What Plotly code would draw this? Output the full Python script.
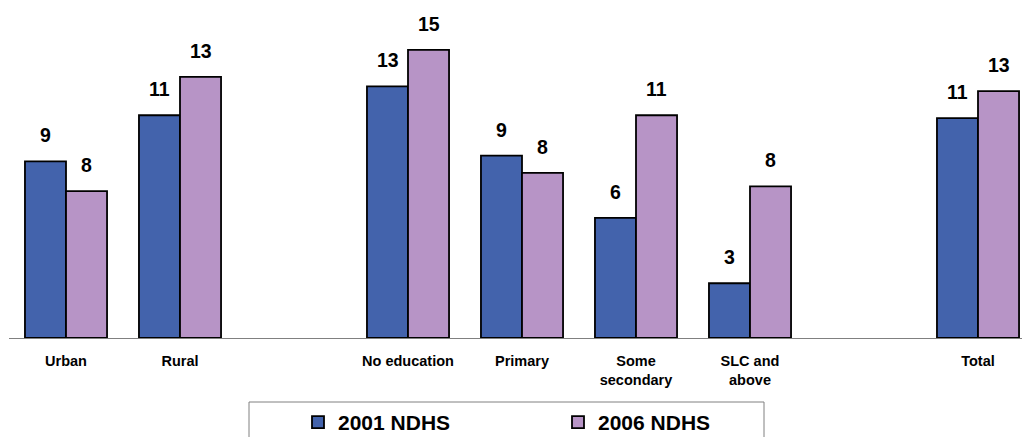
import plotly.graph_objects as go

# categories (blank slots give the gaps between groups)
categories = ["Urban", "Rural", " ", "No education", "Primary",
              "Some<br>secondary", "SLC and<br>above", "  ", "Total"]

ndhs_2001 = [9.2, 11.6, None, 13.1, 9.5, 6.25, 2.85, None, 11.45]
ndhs_2006 = [7.65, 13.6, None, 15.0, 8.6, 11.6, 7.9, None, 12.85]
labels_2001 = ["9", "11", "", "13", "9", "6", "3", "", "11"]
labels_2006 = ["8", "13", "", "15", "8", "11", "8", "", "13"]

blue = "#4363AC"
lilac = "#B794C6"

fig = go.Figure()
fig.add_trace(go.Bar(x=categories, y=ndhs_2001, name="2001 NDHS",
                     marker=dict(color=blue, line=dict(color="black", width=1.8))))
fig.add_trace(go.Bar(x=categories, y=ndhs_2006, name="2006 NDHS",
                     marker=dict(color=lilac, line=dict(color="black", width=1.8))))

# value labels sitting above each bar
for cat, v, t in zip(categories, ndhs_2001, labels_2001):
    if v is not None:
        fig.add_annotation(x=cat, y=v, text="<b>" + t + "</b>", showarrow=False,
                           xshift=-20.5, yshift=13, yanchor="bottom",
                           font=dict(size=19.5, color="black", family="Arial"))
for cat, v, t in zip(categories, ndhs_2006, labels_2006):
    if v is not None:
        fig.add_annotation(x=cat, y=v, text="<b>" + t + "</b>", showarrow=False,
                           xshift=20.5, yshift=13, yanchor="bottom",
                           font=dict(size=19.5, color="black", family="Arial"))

# legend frame
fig.add_shape(type="rect", xref="paper", yref="paper",
              x0=(249 - 9) / 1013, x1=(764 - 9) / 1013,
              y0=-(402 - 338) / 338, y1=-(450 - 338) / 338,
              line=dict(color="#808080", width=1), fillcolor="rgba(0,0,0,0)")

fig.update_layout(
    width=1022, height=437,
    margin=dict(l=9, r=0, t=0, b=99),
    paper_bgcolor="white", plot_bgcolor="white",
    barmode="group", bargap=0.28, bargroupgap=0,
    font=dict(family="Arial", color="black"),
    showlegend=True,
    legend=dict(orientation="h", xref="container", yref="container",
                x=298 / 1022, xanchor="left", y=1 - 402 / 437, yanchor="top",
                entrywidth=215, entrywidthmode="pixels",
                font=dict(size=21, family="Arial", color="black", weight="bold"),
                bgcolor="rgba(0,0,0,0)", borderwidth=0),
    xaxis=dict(type="category", range=[-0.5, 8.386], showline=True, linecolor="#808080",
               linewidth=1, ticks="", showgrid=False, ticklabelstandoff=10,
               tickfont=dict(size=14.5, family="Arial", color="black", weight="bold")),
    yaxis=dict(range=[0, 17.6], visible=False, showgrid=False, zeroline=False),
)

# drop the page margin so the figure sits at the window's corner
fig.write_html("out.html", config={"displayModeBar": False},
               post_script="document.body.style.margin='0';")
